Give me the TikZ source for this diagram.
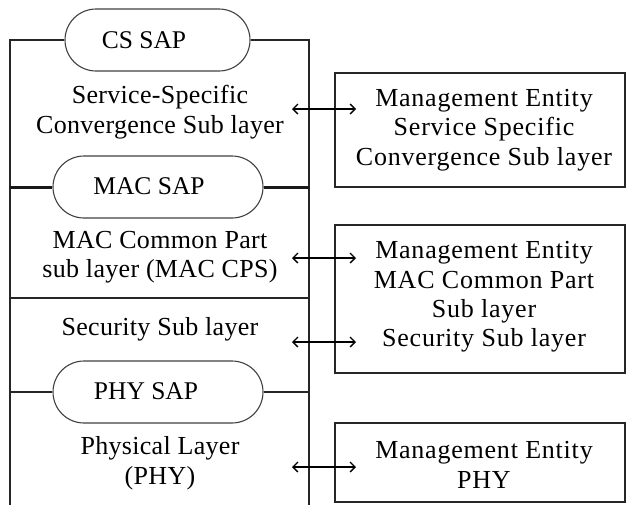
\documentclass[tikz,border=0pt]{standalone}
\usepackage{fontspec}
\setmainfont{Liberation Serif}
\newfontfamily\lefttxt[LetterSpace=1.2]{Liberation Serif}
\newfontfamily\righttxt[LetterSpace=3]{Liberation Serif}
\usetikzlibrary{shapes.misc,arrows.meta}
\begin{document}
\begin{tikzpicture}[x=1pt,y=-1pt,
  frame/.style={line width=1.3pt,black!85},
  thickframe/.style={line width=3pt,black!90},
  sap/.style={rounded rectangle,draw=black!75,line width=1.1pt,minimum height=62pt,inner sep=0pt},
  saptxt/.style={font=\fontsize{25.5}{29}\selectfont,inner sep=0pt},
  txt/.style={align=center,font=\lefttxt\fontsize{26}{29.5}\selectfont,inner sep=0pt},
  rtxt/.style={align=center,font=\righttxt\fontsize{26}{29.3}\selectfont,inner sep=0pt},
  mbox/.style={draw,line width=1.3pt,black!85},
  biarrow/.style={line width=1.3pt,{Straight Barb[length=5pt,width=10pt]}-{Straight Barb[length=5pt,width=10pt]}}]
\useasboundingbox (0,0) rectangle (626,504);
% SAP nodes
\node[sap,minimum width=185pt] (cs) at (157.5,40) {};
\node[saptxt] (cst) at (144,40) {CS SAP};
\node[sap,minimum width=210pt] (mac) at (158,187) {};
\node[saptxt] (mact) at (149,186) {MAC SAP};
\node[sap,minimum width=210pt] (physap) at (158,392) {};
\node[saptxt] (phyt) at (146,391) {PHY SAP};
% frame corner coordinates
\coordinate (tl) at (10,40);
\coordinate (tr) at (309,40);
\coordinate (bl) at (10,505);
\coordinate (br) at (309,505);
\coordinate (ml) at (10,187);
\coordinate (mr) at (309,187);
\coordinate (sl) at (10,298);
\coordinate (sr) at (309,298);
\coordinate (pl) at (10,392);
\coordinate (pr) at (309,392);
\draw[frame] (cs.west) -- (tl) -- (bl);
\draw[frame] (cs.east) -- (tr) -- (br);
\draw[thickframe] (ml) -- (mac.west);
\draw[thickframe] (mac.east) -- (mr);
\draw[frame] (sl) -- (sr);
\draw[frame] (pl) -- (physap.west);
\draw[frame] (physap.east) -- (pr);
% layer texts
\node[txt] (sscs) at (160,112) {Service-Specific\\Convergence Sub layer};
\node[txt] (cps) at (160,257) {MAC Common Part\\sub layer (MAC CPS)};
\node[txt] (sec) at (160,329) {Security Sub layer};
\node[txt] (phy) at (160,463) {Physical Layer\\(PHY)};
% management boxes
\draw[mbox] (335,73) rectangle (625,187);
\node[rtxt] (me1) at (484,130) {Management Entity\\Service Specific\\Convergence Sub layer};
\draw[mbox] (335,225) rectangle (625,373);
\node[rtxt] (me2) at (484,297) {Management Entity\\MAC Common Part\\Sub layer\\Security Sub layer};
\draw[mbox] (335,423) rectangle (625,502);
\node[rtxt] (me3) at (484,465) {Management Entity\\PHY};
% arrows
\coordinate (a1l) at (292,109); \coordinate (a1r) at (356,109);
\coordinate (a2l) at (292,258); \coordinate (a2r) at (356,258);
\coordinate (a3l) at (292,342); \coordinate (a3r) at (356,342);
\coordinate (a4l) at (292,467); \coordinate (a4r) at (356,467);
\draw[biarrow] (a1l) -- (a1r);
\draw[biarrow] (a2l) -- (a2r);
\draw[biarrow] (a3l) -- (a3r);
\draw[biarrow] (a4l) -- (a4r);
\end{tikzpicture}
\end{document}
